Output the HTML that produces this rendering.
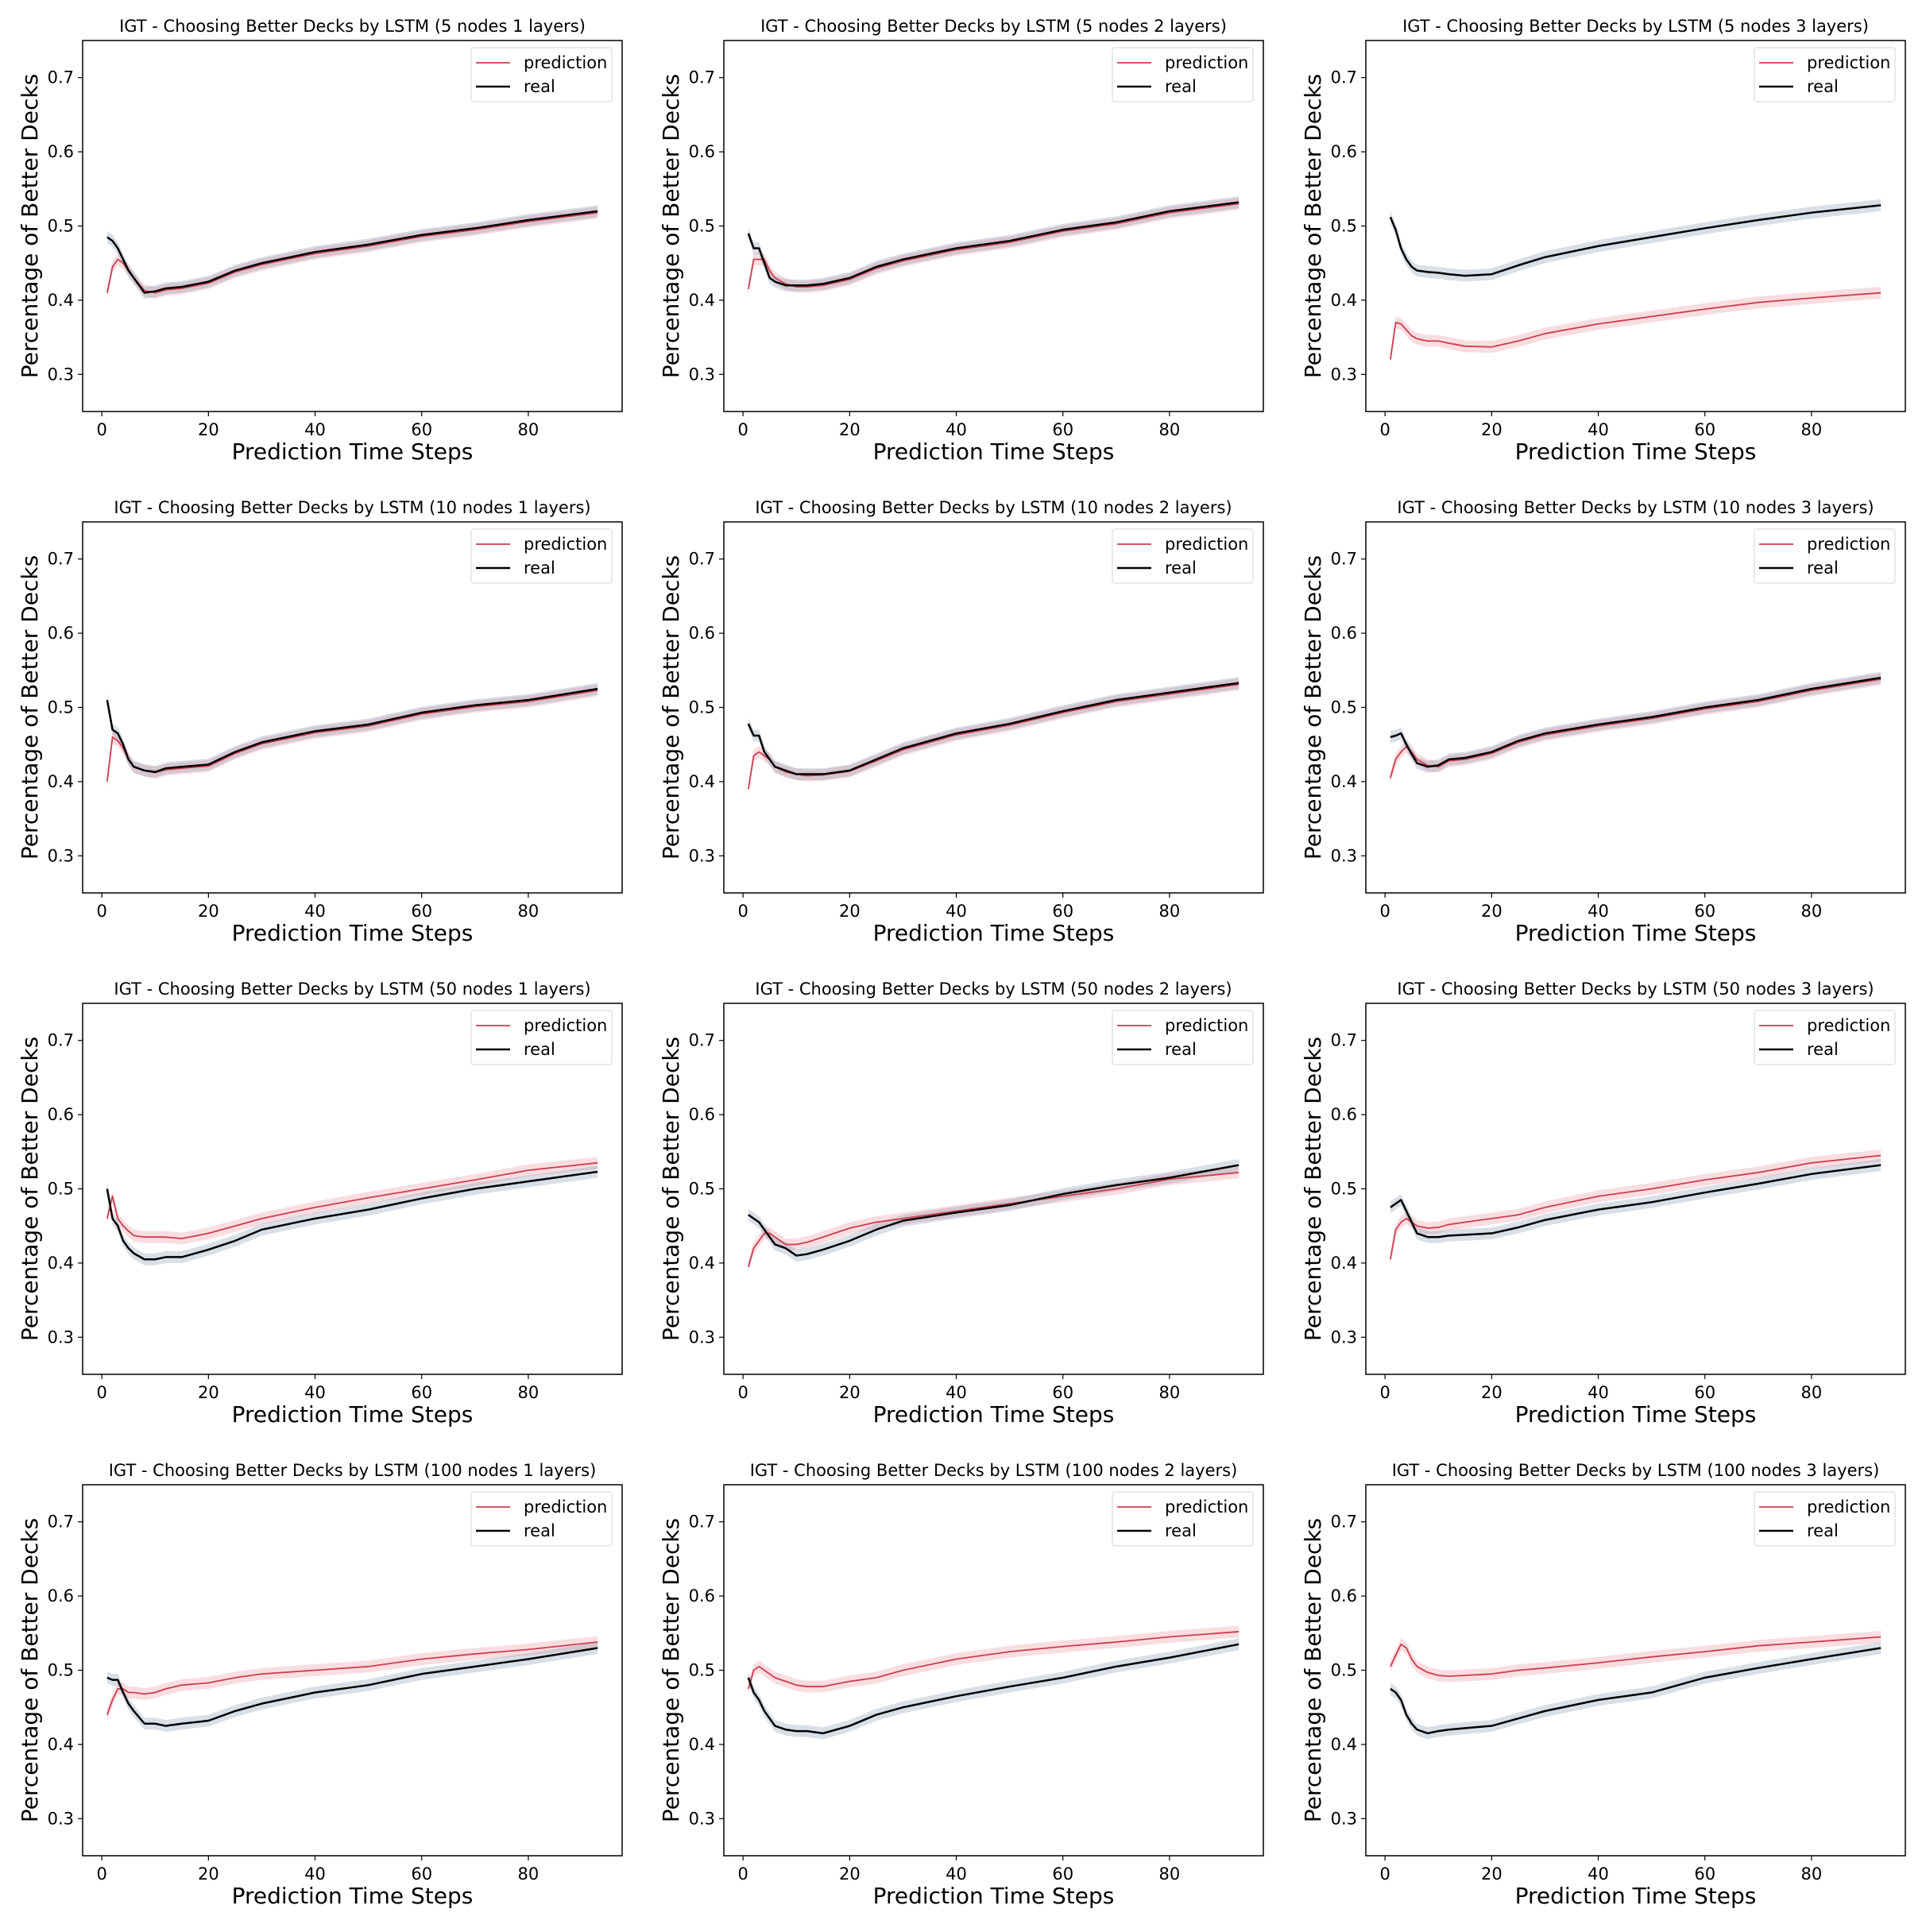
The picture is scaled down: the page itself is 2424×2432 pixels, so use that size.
<!DOCTYPE html>
<html><head><meta charset="utf-8"><style>
html,body{margin:0;padding:0;background:#fff;}
svg{display:block;font-family:"DejaVu Sans","Liberation Sans",sans-serif;}
</style></head><body>
<svg id="fig" width="2424" height="2432" viewBox="0 0 2424 2432" xmlns="http://www.w3.org/2000/svg"></svg>
<script>
const steps=[1,2,3,4,5,6,8,10,12,15,20,25,30,40,50,60,70,80,93];
const titles=["5 nodes 1 layers","5 nodes 2 layers","5 nodes 3 layers","10 nodes 1 layers","10 nodes 2 layers","10 nodes 3 layers","50 nodes 1 layers","50 nodes 2 layers","50 nodes 3 layers","100 nodes 1 layers","100 nodes 2 layers","100 nodes 3 layers"];
const real1=[.485,.48,.47,.455,.44,.43,.41,.412,.416,.418,.425,.44,.45,.465,.475,.488,.497,.508,.52];
const pred1=[.41,.445,.455,.45,.44,.43,.413,.41,.414,.416,.423,.438,.448,.463,.473,.486,.495,.506,.518];
const real2=[.49,.47,.47,.45,.43,.425,.42,.42,.42,.422,.43,.445,.455,.47,.48,.495,.505,.52,.532];
const pred2=[.415,.455,.455,.455,.44,.43,.422,.418,.418,.42,.428,.443,.453,.468,.478,.493,.503,.518,.53];
const real3=[.512,.495,.47,.455,.445,.44,.438,.437,.435,.433,.435,.447,.458,.473,.485,.497,.508,.518,.528];
const pred3=[.32,.37,.368,.36,.352,.348,.345,.345,.342,.338,.337,.345,.355,.368,.378,.388,.397,.403,.41];
const real4=[.51,.47,.465,.45,.43,.42,.415,.413,.418,.42,.423,.44,.453,.468,.477,.493,.503,.51,.525];
const pred4=[.4,.46,.455,.445,.43,.42,.415,.412,.416,.418,.421,.438,.451,.466,.475,.491,.501,.508,.523];
const real5=[.478,.462,.462,.44,.43,.42,.415,.41,.41,.41,.415,.43,.445,.465,.478,.495,.51,.52,.533];
const pred5=[.39,.435,.44,.435,.43,.42,.413,.41,.408,.409,.414,.428,.443,.463,.476,.493,.508,.518,.531];
const real6=[.46,.462,.465,.45,.437,.425,.42,.422,.43,.432,.44,.455,.465,.477,.487,.5,.51,.525,.54];
const pred6=[.405,.43,.44,.447,.44,.43,.422,.42,.428,.43,.438,.453,.463,.475,.485,.498,.508,.523,.538];
const real7=[.5,.46,.45,.43,.42,.413,.405,.405,.408,.408,.418,.43,.445,.46,.472,.487,.5,.51,.523];
const pred7=[.46,.49,.46,.45,.443,.437,.435,.435,.435,.433,.44,.45,.46,.475,.488,.5,.512,.525,.535];
const real8=[.465,.46,.455,.445,.435,.425,.42,.41,.412,.418,.43,.445,.457,.468,.478,.493,.505,.515,.532];
const pred8=[.395,.42,.43,.44,.44,.435,.425,.425,.428,.435,.447,.455,.46,.47,.48,.49,.5,.513,.522];
const real9=[.475,.48,.485,.47,.455,.44,.435,.435,.437,.438,.44,.448,.458,.472,.482,.495,.507,.52,.532];
const pred9=[.405,.445,.455,.46,.455,.45,.447,.448,.452,.455,.46,.465,.475,.49,.5,.512,.522,.535,.545];
const real10=[.49,.487,.487,.47,.455,.445,.428,.428,.425,.428,.432,.445,.455,.47,.48,.495,.505,.515,.53];
const pred10=[.44,.46,.475,.475,.47,.47,.468,.47,.475,.48,.483,.49,.495,.5,.505,.515,.522,.528,.538];
const real11=[.49,.47,.46,.445,.435,.425,.42,.418,.418,.415,.425,.44,.45,.465,.478,.49,.505,.517,.535];
const pred11=[.475,.5,.505,.5,.495,.49,.485,.48,.478,.478,.485,.49,.5,.515,.525,.532,.538,.545,.552];
const real12=[.475,.47,.46,.44,.428,.42,.415,.418,.42,.422,.425,.435,.445,.46,.47,.49,.503,.515,.53];
const pred12=[.505,.52,.535,.53,.515,.505,.497,.493,.492,.493,.495,.5,.503,.51,.518,.525,.533,.538,.545];
const realSeries=[real1,real2,real3,real4,real5,real6,real7,real8,real9,real10,real11,real12];
const predSeries=[pred1,pred2,pred3,pred4,pred5,pred6,pred7,pred8,pred9,pred10,pred11,pred12];
const xTicks=[0,20,40,60,80];
const yTicks=[0.3,0.4,0.5,0.6,0.7];

const NS="http://www.w3.org/2000/svg";
const fig=document.getElementById('fig');
function mk(tag,attrs,parent,text){const e=document.createElementNS(NS,tag);for(const k in attrs)e.setAttribute(k,attrs[k]);if(text!==undefined)e.textContent=text;parent.appendChild(e);return e;}
const colL=[104,911,1719], rowT=[51,657,1263,1869], W=679, H=467;
const xmin=-3.6,xmax=97.6,ymin=0.25,ymax=0.75;
const RED="#cc3e50";
for(let i=0;i<12;i++){
  const L=colL[i%3], T=rowT[Math.floor(i/3)];
  const sx=v=>L+(v-xmin)/(xmax-xmin)*W;
  const sy=v=>T+(ymax-v)/(ymax-ymin)*H;
  const g=mk('g',{},fig);
  
  
  const t=mk('text',{x:L+W/2,y:T-11,'text-anchor':'middle','font-size':21,fill:'#000'},g,'IGT - Choosing Better Decks by LSTM ('+titles[i]+')');
  
  
  function band(arr,col){
    let d='';
    steps.forEach((s,j)=>{d+=(j?'L':'M')+sx(s)+','+sy(arr[j]+0.008);});
    for(let j=steps.length-1;j>=0;j--)d+='L'+sx(steps[j])+','+sy(arr[j]-0.008);
    return mk('path',{d:d+'Z',fill:col,stroke:'none'},g);
  }
  function line(arr,col,w){
    let d='';steps.forEach((s,j)=>{d+=(j?'L':'M')+sx(s)+','+sy(arr[j]);});
    return mk('path',{d:d,fill:'none',stroke:col,'stroke-width':w,'stroke-linejoin':'round'},g);
  }
  const b1=band(predSeries[i],'rgba(230,120,130,0.25)');
  
  
  const b2=band(realSeries[i],'rgba(120,140,170,0.28)');
  
  
  const l1=line(predSeries[i],RED,1.8);
  
  
  const l2=line(realSeries[i],'#000',2.5);
  
  
  const box=mk('rect',{x:L,y:T,width:W,height:H,fill:'none',stroke:'#000','stroke-width':1.5},g);
  
  
  xTicks.forEach(v=>{
    mk('line',{x1:sx(v),x2:sx(v),y1:T+H,y2:T+H+6,stroke:'#000','stroke-width':1.2},g);
    const tl=mk('text',{x:sx(v),y:T+H+30,'text-anchor':'middle','font-size':21},g,String(v));
    
    
  });
  yTicks.forEach(v=>{
    mk('line',{x1:L-6,x2:L,y1:sy(v),y2:sy(v),stroke:'#000','stroke-width':1.2},g);
    const tl=mk('text',{x:L-11,y:sy(v)+7,'text-anchor':'end','font-size':21},g,v.toFixed(1));
    
    
  });
  const xl=mk('text',{x:L+W/2,y:T+H+60,'text-anchor':'middle','font-size':28},g,'Prediction Time Steps');
  
  
  const yx=L-57, yy=T+H/2;
  const yl=mk('text',{x:yx,y:yy,'text-anchor':'middle','font-size':28,transform:'rotate(-90 '+yx+' '+yy+')'},g,'Percentage of Better Decks');
  
  
  const lg=mk('g',{},g);
  
  
  mk('rect',{x:L+489,y:T+9,width:177,height:68,fill:'#fff',stroke:'#ddd','stroke-width':1.2,rx:3},lg);
  mk('line',{x1:L+495,x2:L+538,y1:T+28,y2:T+28,stroke:RED,'stroke-width':1.8},lg);
  mk('line',{x1:L+495,x2:L+538,y1:T+58,y2:T+58,stroke:'#000','stroke-width':2.4},lg);
  const e1=mk('text',{x:L+555,y:T+35,'font-size':21},lg,'prediction');
  
  
  const e2=mk('text',{x:L+555,y:T+65,'font-size':21},lg,'real');
  
  
}
</script>
</body></html>
